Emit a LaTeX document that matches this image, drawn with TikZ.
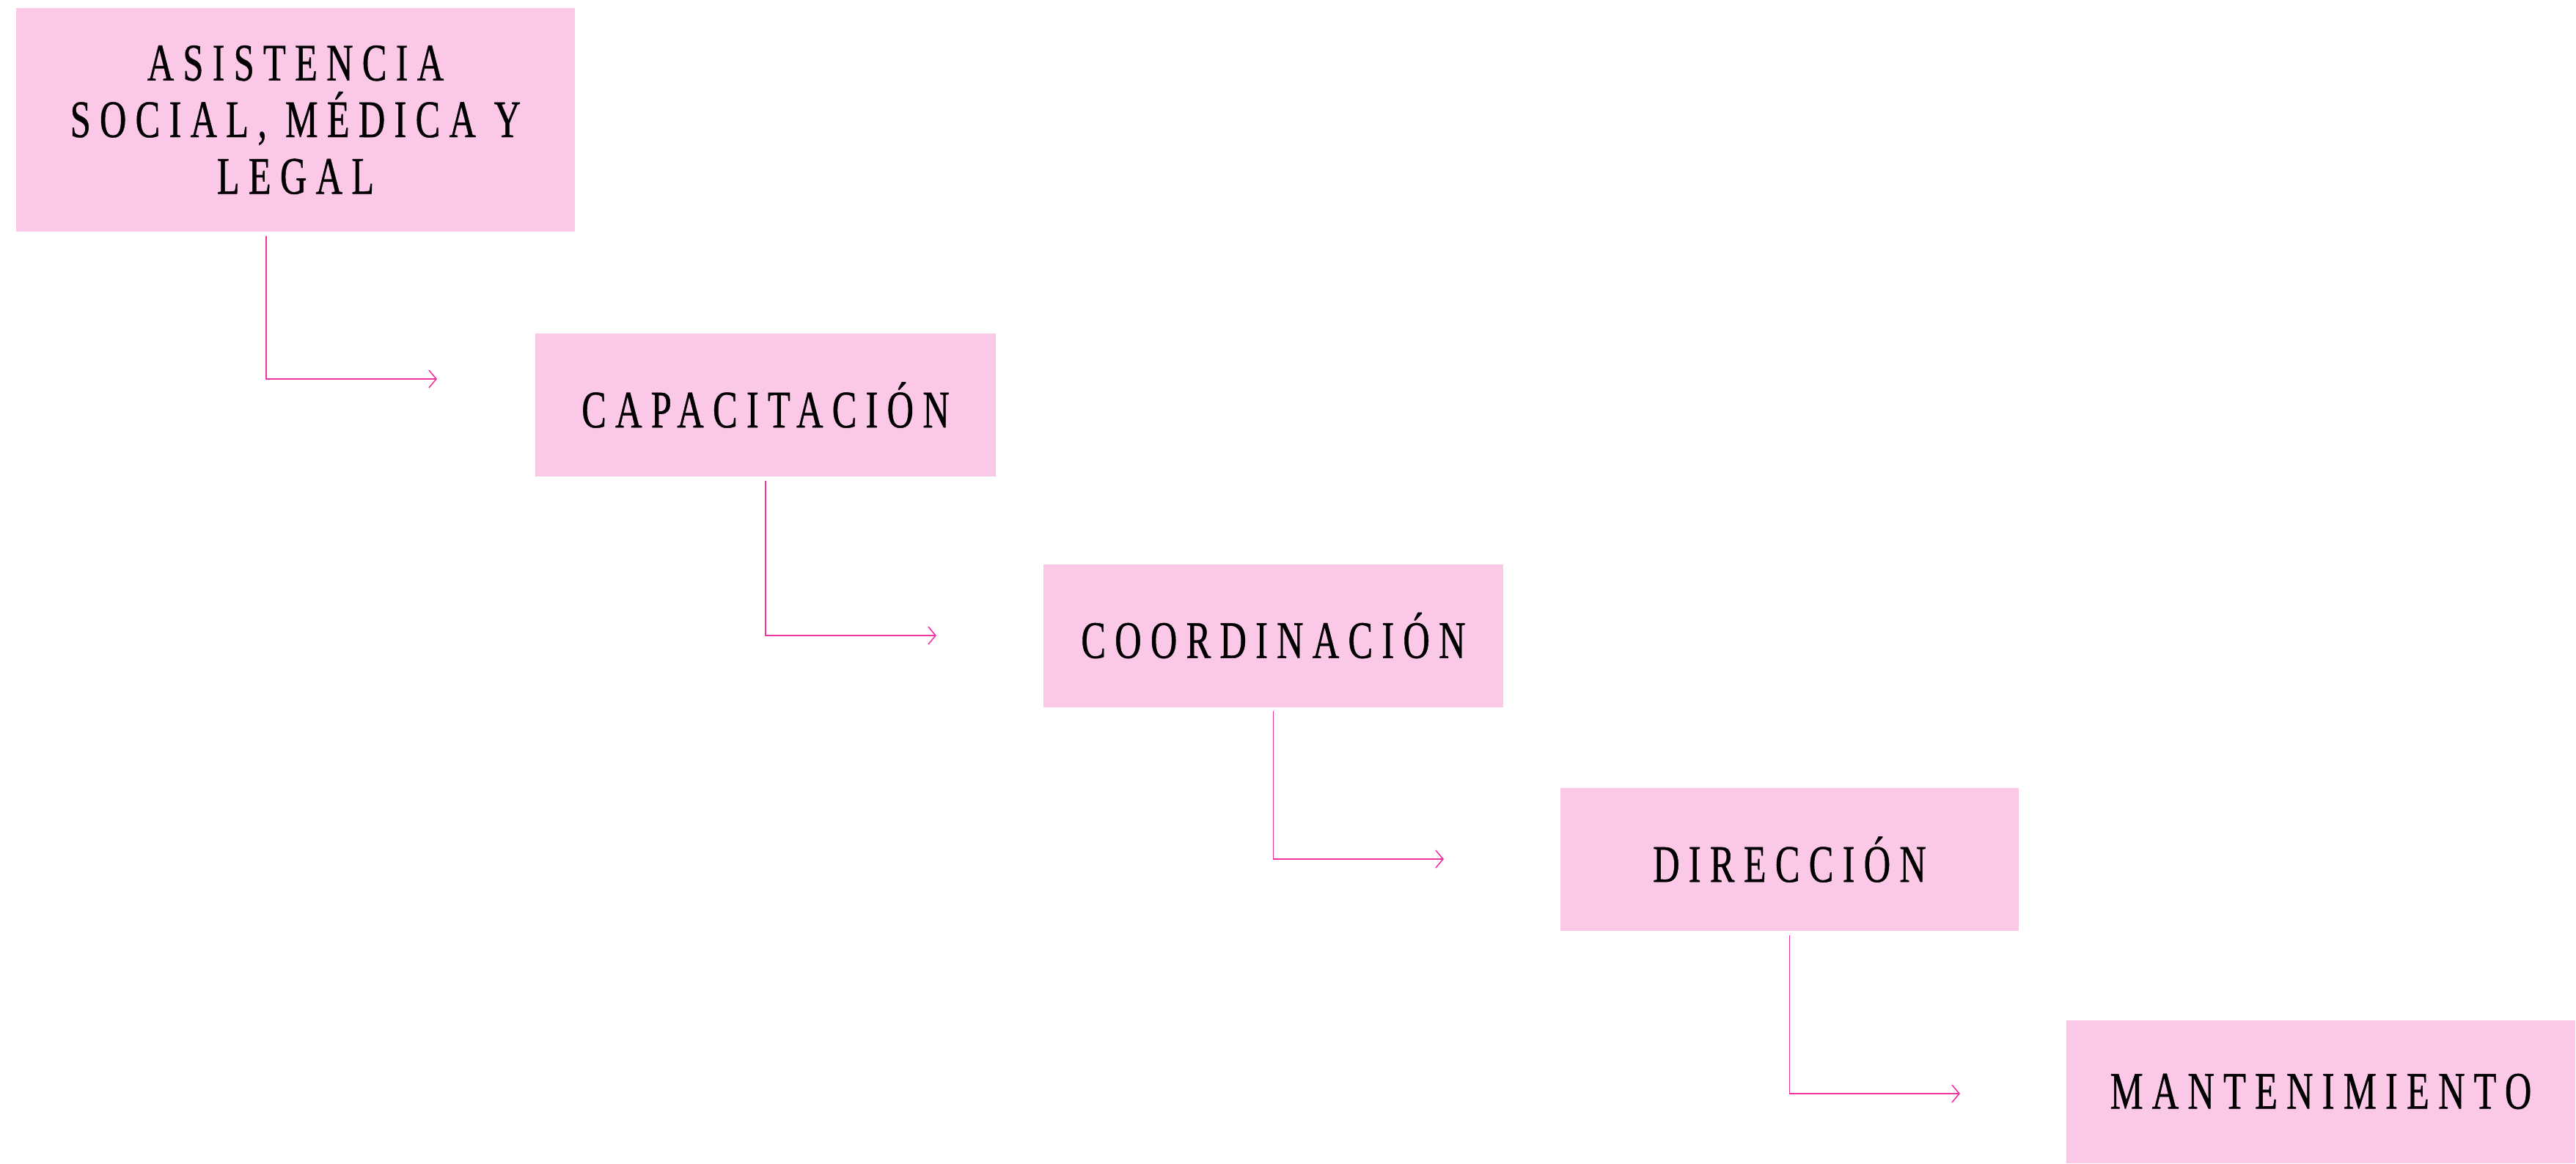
\documentclass[tikz,border=0pt]{standalone}
\usepackage{fontspec}
\setmainfont{Liberation Serif}[FakeStretch=0.7, LetterSpace=17, FakeBold=0.6]
\usepackage{xcolor}
\usetikzlibrary{arrows.meta, positioning}

\definecolor{boxpink}{RGB}{251,200,232}
\definecolor{linepink}{RGB}{238,52,160}

\begin{document}
\begin{tikzpicture}[
    box/.style={rectangle, fill=boxpink, minimum height=1.95cm, align=center,
                font=\fontsize{20.5}{22}\selectfont, text=black},
    arrow/.style={-{Straight Barb[length=0.1cm, width=0.24cm]}, draw=linepink, line width=0.45pt, shorten <=0.05cm}
]
    \useasboundingbox (0,0) rectangle (35.13,-15.87);

    \node[box, minimum width=7.62cm, minimum height=3.05cm] (asis) at (4.03,-1.635) {ASISTENCIA\\SOCIAL, MÉDICA Y\\LEGAL};
    \node[box, minimum width=6.28cm] (capa) at (10.44,-5.525) {CAPACITACIÓN};
    \node[box, minimum width=6.27cm] (coord) at (17.365,-8.67) {COORDINACIÓN};
    \node[box, minimum width=6.25cm] (dir) at (24.405,-11.725) {DIRECCIÓN};
    \node[box, minimum width=6.94cm] (mant) at (31.65,-14.89) {MANTENIMIENTO};

    \coordinate (e1) at (5.96,-5.17);
    \coordinate (e2) at (12.77,-8.67);
    \coordinate (e3) at (19.69,-11.72);
    \coordinate (e4) at (26.73,-14.92);

    \draw[arrow] ([xshift=-0.4cm]asis.south) |- (e1);
    \draw[arrow] (capa.south) |- (e2);
    \draw[arrow] (coord.south) |- (e3);
    \draw[arrow] (dir.south) |- (e4);
\end{tikzpicture}
\end{document}
